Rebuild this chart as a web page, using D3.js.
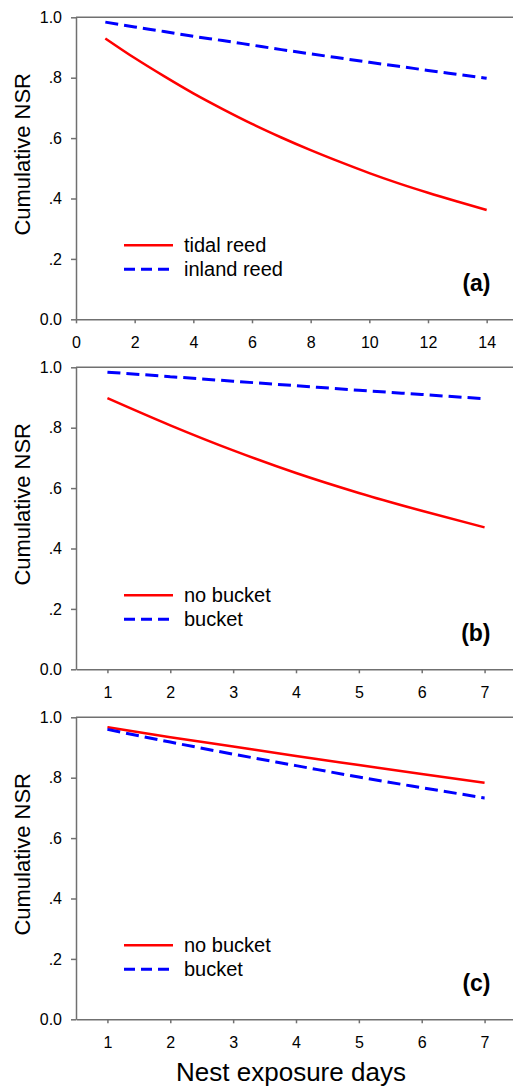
<!DOCTYPE html>
<html>
<head>
<meta charset="utf-8">
<script src="https://cdn.jsdelivr.net/npm/d3@7"></script>
<style>
  body { margin: 0; background: #fff; overflow: hidden; }
  svg { display: block; font-family: "Liberation Sans", Arial, sans-serif; }
  .axis path, .axis line { stroke: #707070; stroke-width: 1.5; }
  .axis text { fill: #000; font-size: 16px; font-family: "Liberation Sans", Arial, sans-serif; }
</style>
</head>
<body>
<div id="chart"></div>
<script>
// panel (a): 14 exposure days
const daysA = [1, 2, 3, 4, 5, 6, 7, 8, 9, 10, 11, 12, 13, 14];
const tidalReed = [0.93, 0.865, 0.805, 0.748, 0.696, 0.647, 0.602, 0.56, 0.521, 0.484, 0.45, 0.419, 0.39, 0.362];
const inlandReed = [0.984, 0.968, 0.953, 0.937, 0.923, 0.908, 0.893, 0.879, 0.865, 0.851, 0.838, 0.824, 0.811, 0.798];
const ticksA = [0, 2, 4, 6, 8, 10, 12, 14];

// panels (b) and (c): 7 exposure days
const daysBC = [1, 2, 3, 4, 5, 6, 7];
const noBucketB = [0.898, 0.808, 0.725, 0.65, 0.584, 0.525, 0.47];
const bucketB = [0.984, 0.969, 0.954, 0.939, 0.924, 0.91, 0.896];
const noBucketC = [0.967, 0.934, 0.903, 0.872, 0.842, 0.812, 0.783];
const bucketC = [0.96, 0.918, 0.878, 0.84, 0.802, 0.767, 0.733];
const ticksBC = [1, 2, 3, 4, 5, 6, 7];

const yTicks = [0, 0.2, 0.4, 0.6, 0.8, 1.0];
const panelLabels = ["(a)", "(b)", "(c)"];
const legendA = ["tidal reed", "inland reed"];
const legendBC = ["no bucket", "bucket"];

const width = 513, height = 1086;
const left = 76, right = 516;
const panelTops = [17.3, 367.3, 717.3];
const panelH = 302;

const panels = [
  { days: daysA, solid: tidalReed, dashed: inlandReed, ticks: ticksA, domain: [0, 15], legend: legendA },
  { days: daysBC, solid: noBucketB, dashed: bucketB, ticks: ticksBC, domain: [0.5, 7.5], legend: legendBC },
  { days: daysBC, solid: noBucketC, dashed: bucketC, ticks: ticksBC, domain: [0.5, 7.5], legend: legendBC }
];

const svg = d3.select("#chart").append("svg")
  .attr("width", width)
  .attr("height", height);

panels.forEach(function (p, i) {
  const top = panelTops[i], bottom = top + panelH;
  const x = d3.scaleLinear().domain(p.domain).range([left, right]);
  const y = d3.scaleLinear().domain([0, 1]).range([bottom, top]);
  const g = svg.append("g");

  // top frame line
  g.append("line")
    .attr("x1", left).attr("x2", right)
    .attr("y1", top).attr("y2", top)
    .attr("stroke", "#707070").attr("stroke-width", 1.5);

  g.append("g").attr("class", "axis")
    .attr("transform", `translate(0,${bottom})`)
    .call(d3.axisBottom(x).tickValues(p.ticks).tickFormat(d3.format("d"))
      .tickSize(4).tickSizeOuter(0).tickPadding(13.5));

  g.append("g").attr("class", "axis")
    .attr("transform", `translate(${left},0)`)
    .call(d3.axisLeft(y).tickValues(yTicks).tickSize(5).tickSizeOuter(0).tickPadding(9)
      .tickFormat(d => (d === 0 || d === 1) ? d3.format(".1f")(d) : d3.format(".1f")(d).replace(/^0/, "")));

  const line = d3.line()
    .x((d, k) => x(p.days[k]))
    .y(d => y(d))
    .curve(d3.curveMonotoneX);

  g.append("path").datum(p.solid)
    .attr("d", line)
    .attr("fill", "none").attr("stroke", "#ff0000").attr("stroke-width", 2.5);

  g.append("path").datum(p.dashed)
    .attr("d", line)
    .attr("fill", "none").attr("stroke", "#0000ff").attr("stroke-width", 3)
    .attr("stroke-dasharray", "13,6");

  // legend
  const legY = [bottom - 74, bottom - 50];
  [["#ff0000", null, 2.5], ["#0000ff", "11,6", 3]].forEach(function (s, k) {
    g.append("line")
      .attr("x1", 124).attr("x2", 173)
      .attr("y1", legY[k]).attr("y2", legY[k])
      .attr("stroke", s[0]).attr("stroke-width", s[2])
      .attr("stroke-dasharray", s[1]);
    g.append("text")
      .attr("x", 184).attr("y", legY[k] + 7)
      .attr("font-size", 20)
      .text(p.legend[k]);
  });

  g.append("text")
    .attr("x", 490.5).attr("y", bottom - 28)
    .attr("text-anchor", "end")
    .attr("font-size", 23).attr("font-weight", "bold")
    .text(panelLabels[i]);

  g.append("text")
    .attr("transform", `translate(29.5,${(top + bottom) / 2 - 14}) rotate(-90)`)
    .attr("text-anchor", "middle")
    .attr("font-size", 22)
    .text("Cumulative NSR");
});

svg.append("text")
  .attr("x", 291).attr("y", 1081)
  .attr("text-anchor", "middle")
  .attr("font-size", 26)
  .text("Nest exposure days");
</script>
</body>
</html>
